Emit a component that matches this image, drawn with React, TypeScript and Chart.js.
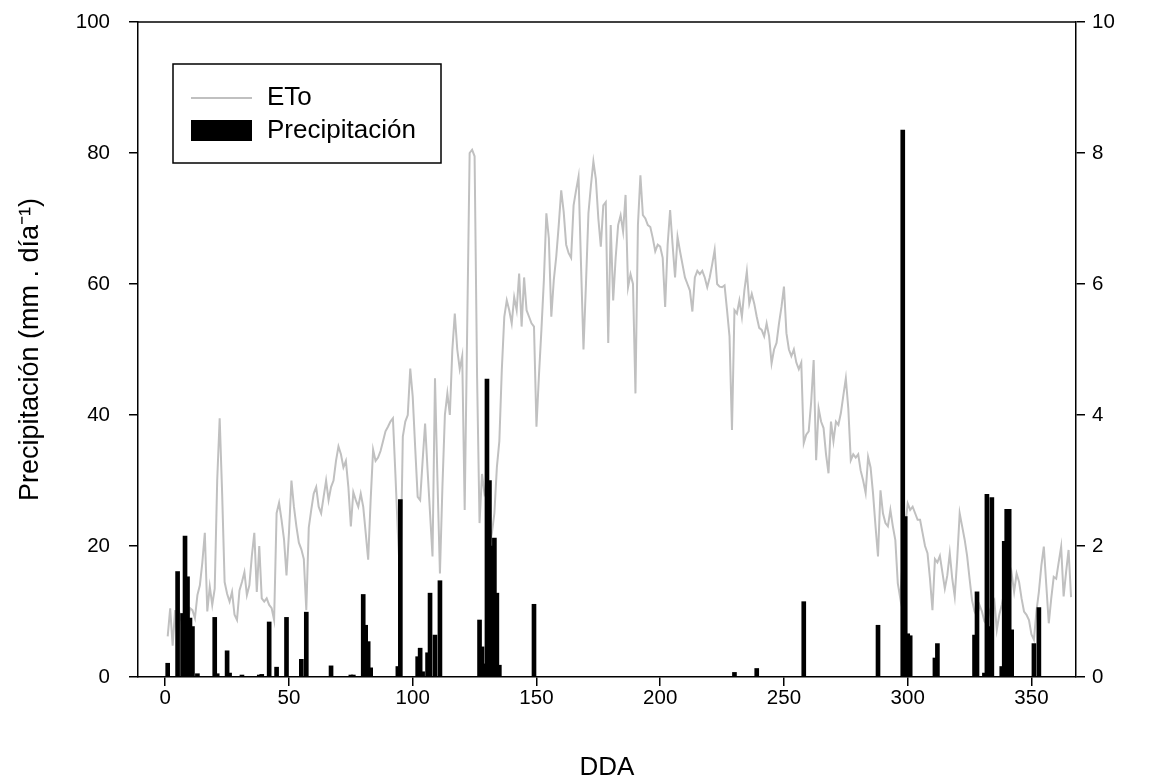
import React, { useEffect, useRef } from 'react';
import { Chart, registerables } from 'chart.js';

Chart.register(...registerables);

// ETo (mm/día), one value per day, DDA 1..366 (right axis)
const etoValues: number[] = [
  0.62, 1.05, 0.48, 1.02, 0.55, 0.95, 0.82, 1.0, 0.78, 1.05,
  1.02, 0.9, 1.25, 1.4, 1.75, 2.2, 1.0, 1.38, 1.1, 1.35,
  3.0, 3.95, 2.8, 1.45, 1.27, 1.15, 1.3, 0.95, 0.87, 1.32,
  1.45, 1.6, 1.25, 1.4, 1.85, 2.2, 1.3, 2.0, 1.2, 1.15,
  1.2, 1.1, 1.05, 0.87, 2.5, 2.66, 2.4, 2.1, 1.55, 2.2,
  3.0, 2.6, 2.3, 2.05, 1.95, 1.8, 1.02, 2.28, 2.55, 2.8,
  2.9, 2.6, 2.5, 2.75, 3.0, 2.7, 2.9, 3.0, 3.3, 3.52,
  3.4, 3.2, 3.3, 2.9, 2.3, 2.82, 2.7, 2.6, 2.8, 2.6,
  2.2, 1.79, 2.7, 3.47, 3.3, 3.35, 3.45, 3.6, 3.75, 3.82,
  3.9, 3.95, 3.1, 2.2, 1.43, 3.67, 3.9, 4.0, 4.71, 4.28,
  3.5, 2.75, 2.7, 3.3, 3.87, 3.16, 2.5, 1.84, 4.56, 3.0,
  1.58, 2.9, 4.0, 4.33, 4.0, 4.99, 5.55, 5.0, 4.7, 4.9,
  2.55, 5.3, 8.0, 8.05, 7.95, 4.6, 2.35, 3.1, 2.8, 2.9,
  1.99, 2.2, 2.5, 3.2, 3.6, 4.69, 5.5, 5.75, 5.6, 5.4,
  5.8, 5.6, 6.16, 5.35, 6.1, 5.6, 5.5, 5.4, 5.35, 3.82,
  4.6, 5.3, 6.06, 7.08, 6.7, 5.5, 6.06, 6.42, 6.9, 7.43,
  7.1, 6.6, 6.47, 6.4, 7.2, 7.43, 7.64, 6.3, 5.0, 6.0,
  7.08, 7.5, 7.87, 7.6, 7.0, 6.57, 7.2, 7.25, 5.1, 6.9,
  5.75, 6.4, 6.9, 7.05, 6.8, 7.36, 5.95, 6.15, 6.0, 4.33,
  6.9, 7.66, 7.05, 7.0, 6.9, 6.87, 6.7, 6.5, 6.6, 6.57,
  6.4, 5.65, 6.6, 7.13, 6.6, 6.1, 6.72, 6.5, 6.3, 6.1,
  6.0, 5.9, 5.58, 6.1, 6.2, 6.15, 6.2, 6.1, 5.95, 6.1,
  6.3, 6.52, 6.0, 5.96, 5.95, 5.98, 5.6, 5.2, 3.77, 5.6,
  5.55, 5.75, 5.5, 5.9, 6.19, 5.7, 5.85, 5.7, 5.5, 5.33,
  5.3, 5.2, 5.4, 5.2, 4.79, 5.0, 5.1, 5.4, 5.65, 5.96,
  5.25, 5.0, 4.9, 5.0, 4.8, 4.7, 4.8, 3.57, 3.7, 3.75,
  4.2, 4.84, 3.31, 4.1, 3.9, 3.8, 3.4, 3.11, 3.9, 3.6,
  3.9, 3.85, 4.03, 4.3, 4.56, 4.1, 3.31, 3.4, 3.35, 3.4,
  3.15, 3.0, 2.81, 3.36, 3.2, 2.8, 2.3, 1.84, 2.85, 2.5,
  2.35, 2.3, 2.55, 2.3, 2.09, 1.43, 1.2, 1.8, 2.3, 2.65,
  2.55, 2.6, 2.5, 2.4, 2.4, 2.2, 2.0, 1.89, 1.5, 1.02,
  1.8, 1.75, 1.85, 1.6, 1.35, 1.55, 1.89, 1.5, 1.23, 1.8,
  2.5, 2.3, 2.1, 1.85, 1.5, 1.17, 1.0, 0.92, 1.1, 1.0,
  0.85, 0.8, 1.0, 1.1, 1.17, 0.72, 0.95, 1.1, 1.3, 1.45,
  1.35, 1.58, 1.3, 1.58, 1.45, 1.2, 1.0, 0.95, 0.87, 0.65,
  0.57, 1.0, 1.3, 1.7, 1.99, 1.4, 0.82, 1.2, 1.53, 1.5,
  1.75, 1.99, 1.23, 1.6, 1.94, 1.22,
];

// Precipitación (mm/día) on the left axis
const precipDays: number[] = [
  1, 5, 7, 8, 9, 10, 11, 13, 20, 21,
  25, 26, 31, 38, 39, 42, 45, 49, 55, 57,
  67, 75, 76, 80, 81, 82, 83, 94, 95, 102,
  103, 104, 106, 107, 109, 111, 127, 128, 129, 130,
  131, 132, 133, 134, 135, 149, 230, 239, 258, 288,
  298, 299, 300, 301, 311, 312, 327, 328, 331, 332,
  333, 334, 338, 339, 340, 341, 342, 351, 353,
];
const precipValues: number[] = [
  2.1, 16.1, 9.7, 21.5, 15.3, 9.0, 7.7, 0.5, 9.1, 0.5,
  4.0, 0.6, 0.3, 0.3, 0.4, 8.4, 1.5, 9.1, 2.7, 9.9,
  1.7, 0.3, 0.3, 12.6, 7.9, 5.4, 1.4, 1.6, 27.1, 3.1,
  4.4, 0.8, 3.7, 12.8, 6.4, 14.7, 8.7, 4.6, 2.0, 45.5,
  30.0, 20.0, 21.2, 12.8, 1.8, 11.1, 0.7, 1.3, 11.5, 7.9,
  83.5, 24.5, 6.6, 6.3, 2.9, 5.1, 6.4, 13.0, 0.6, 27.9,
  7.7, 27.4, 1.6, 20.7, 25.6, 25.6, 7.2, 5.1, 10.6,
];

const xTicks: number[] = [0, 50, 100, 150, 200, 250, 300, 350];
const leftTicks: number[] = [0, 20, 40, 60, 80, 100];
const rightTicks: number[] = [0, 2, 4, 6, 8, 10];

const FAMILY = '"Liberation Sans", Arial, Helvetica, sans-serif';

export default function App() {
  const ref = useRef<HTMLCanvasElement | null>(null);

  useEffect(() => {
    if (!ref.current) return;

    const framePlugin = {
      id: 'frameAndLegend',
      afterDraw(chart: any) {
        const ctx = chart.ctx;
        const { left, right, top } = chart.chartArea;
        ctx.save();
        // top border of the frame
        ctx.strokeStyle = '#000';
        ctx.lineWidth = 1.5;
        ctx.beginPath();
        ctx.moveTo(left, top);
        ctx.lineTo(right, top);
        ctx.stroke();

        // legend box
        const bx = left + 35;
        const by = top + 42;
        ctx.strokeRect(bx, by, 268, 99);
        const etoDs = chart.data.datasets[1];
        const prDs = chart.data.datasets[0];
        ctx.strokeStyle = etoDs.borderColor;
        ctx.lineWidth = 2;
        ctx.beginPath();
        ctx.moveTo(bx + 18, by + 34);
        ctx.lineTo(bx + 79, by + 34);
        ctx.stroke();
        ctx.fillStyle = prDs.backgroundColor;
        ctx.fillRect(bx + 18, by + 56, 61, 21);
        ctx.fillStyle = '#000';
        ctx.font = `26px ${FAMILY}`;
        ctx.textAlign = 'left';
        ctx.textBaseline = 'middle';
        ctx.fillText(etoDs.label, bx + 94, by + 34);
        ctx.fillText(prDs.label, bx + 94, by + 67);
        ctx.restore();
      },
    };

    const tickGrid = {
      display: true,
      drawOnChartArea: false,
      drawTicks: true,
      tickLength: 9,
      color: '#000',
      lineWidth: 1.5,
      offset: false,
    };
    const border = { display: true, color: '#000', width: 1.5 };
    const tickFont = { family: FAMILY, size: 20.5 };

    const fitVertical = (w: number) => (s: any) => {
      s.width = w;
      s.paddingTop = 0;
      s.paddingBottom = 0;
    };

    const chart = new Chart(ref.current, {
      data: {
        datasets: [
          {
            type: 'bar',
            label: 'Precipitación',
            data: precipDays.map((d, i) => ({ x: d, y: precipValues[i] })),
            backgroundColor: '#000000',
            borderWidth: 0,
            barThickness: 4,
            yAxisID: 'y',
            order: 0,
          },
          {
            type: 'line',
            label: 'ETo',
            data: etoValues.map((v, i) => ({ x: i + 1, y: v })),
            borderColor: '#c0c0c0',
            borderWidth: 2,
            pointRadius: 0,
            tension: 0,
            fill: false,
            yAxisID: 'y1',
            order: 1,
          },
        ],
      } as any,
      options: {
        responsive: true,
        maintainAspectRatio: false,
        animation: false,
        layout: { padding: { top: 22, left: 0, right: 0, bottom: 0 } },
        plugins: {
          legend: { display: false },
          tooltip: { enabled: false },
        },
        scales: {
          x: {
            type: 'linear',
            min: -11,
            max: 368,
            offset: false,
            afterBuildTicks: (s: any) => {
              s.ticks = xTicks.map((v) => ({ value: v }));
            },
            afterFit: (s: any) => {
              s.height = 106;
              s.paddingLeft = 0;
              s.paddingRight = 0;
            },
            grid: tickGrid,
            border,
            ticks: {
              color: '#000',
              font: tickFont,
              padding: 0,
              maxRotation: 0,
              autoSkip: false,
            },
            title: {
              display: true,
              text: 'DDA',
              color: '#000',
              font: { family: FAMILY, size: 26 },
              padding: { top: 0, bottom: 0 },
            },
          },
          y: {
            type: 'linear',
            position: 'left',
            min: 0,
            max: 100,
            afterBuildTicks: (s: any) => {
              s.ticks = leftTicks.map((v) => ({ value: v }));
            },
            afterFit: fitVertical(138),
            grid: tickGrid,
            border,
            ticks: {
              color: '#000',
              font: tickFont,
              padding: 19,
              autoSkip: false,
            },
            title: {
              display: true,
              text: 'Precipitación (mm . día⁻¹)',
              color: '#000',
              font: { family: FAMILY, size: 27 },
              padding: { top: 14, bottom: 0 },
            },
          },
          y1: {
            type: 'linear',
            position: 'right',
            min: 0,
            max: 10,
            afterBuildTicks: (s: any) => {
              s.ticks = rightTicks.map((v) => ({ value: v }));
            },
            afterFit: fitVertical(73),
            grid: tickGrid,
            border,
            ticks: {
              color: '#000',
              font: tickFont,
              padding: 7,
              autoSkip: false,
            },
          },
        },
      } as any,
      plugins: [framePlugin],
    });

    return () => chart.destroy();
  }, []);

  return (
    <div
      style={{
        position: 'fixed',
        left: 0,
        top: 0,
        width: 1149,
        height: 783,
        background: '#ffffff',
      }}
    >
      <canvas ref={ref} />
    </div>
  );
}
